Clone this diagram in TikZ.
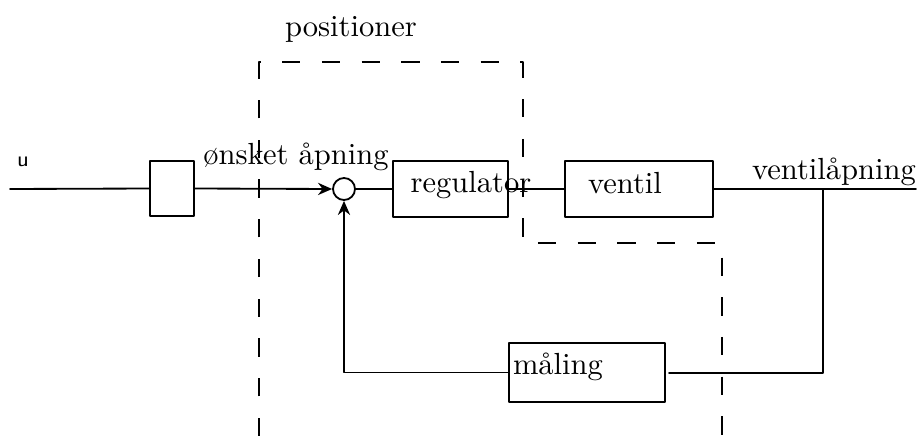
\documentclass[tikz,border=0pt]{standalone}
\usepackage{amsfonts,amsmath,amssymb}
\usetikzlibrary{arrows.meta}
\tikzset{
  every picture/.style={line join=round, line cap=round, >={Stealth[length=4.6pt,width=4pt]}},
  blokk/.style={draw, line width=0.6pt, inner sep=0pt},
  sumpkt/.style={draw, circle, line width=0.6pt, inner sep=0pt, minimum size=0.253cm},
  linje/.style={line width=0.6pt},
  grense/.style={line width=0.6pt, dash pattern=on 6pt off 7pt, line cap=butt},
}

\begin{document}
\begin{tikzpicture}[x=0.0115cm,y=-0.0115cm]
\useasboundingbox (0,0) rectangle (924,436);
% blokker
\node[blokk,minimum width=0.506cm,minimum height=0.633cm](filter) at (172,188.5){};
\node[sumpkt](sum) at (344,189){};
\node[blokk,minimum width=1.3225cm,minimum height=0.644cm](reg) at (450.5,189){};
\node[blokk,minimum width=1.702cm,minimum height=0.644cm](ventil) at (639,189){};
\node[blokk,minimum width=1.794cm,minimum height=0.6785cm](maal) at (587,372.5){};
% tekster
\node(tu) at (23,162){\sffamily\scriptsize u};
\node(tonsket) at (296,157){ønsket åpning};
\node(treg) at (471,185){regulator};
\node(tventil) at (625,183){ventil};
\node(tapning) at (834,172){ventilåpning};
\node(tmaal) at (558,367){måling};
\node(tpos) at (351,29){positioner};
% punkter
\coordinate(inn) at (10,189);
\coordinate(ut) at (916,189);
\coordinate(grein) at (823,189);
\coordinate(maalinn) at (669,373);
% forbindelser
\draw[linje](inn)--(filter.west);
\draw[linje,->](filter.east)--(sum.west);
\draw[linje](sum.east)--(reg.west);
\draw[linje](reg.east)--(ventil.west);
\draw[linje](ventil.east)--(ut);
\draw[linje](grein)|-(maalinn);
\draw[linje,->](maal.west)-|(sum.south);
% positioner
\draw[grense](259,436)--(259,62)--(523,62)--(523,243)--(722,243)--(722,436);
\end{tikzpicture}
\end{document}
